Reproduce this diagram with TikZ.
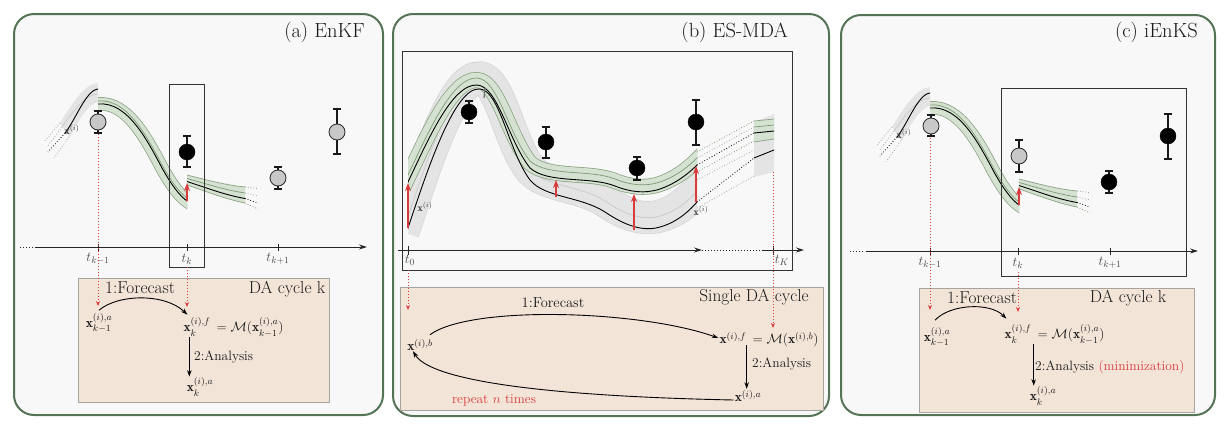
\RequirePackage{fix-cm}
\documentclass[tikz,border=0pt]{standalone}
\usepackage{amsmath}
\usepackage{fontspec}
\usetikzlibrary{arrows.meta}

\definecolor{panelborder}{HTML}{557455}
\definecolor{panelfill}{HTML}{F8F8F8}
\definecolor{beige}{HTML}{F3E4D8}
\definecolor{beigeborder}{HTML}{A9A39F}
\definecolor{bandgreen}{HTML}{D5E1D1}
\definecolor{bandedgec}{HTML}{8AA283}
\definecolor{greenlnc}{HTML}{7C9974}
\definecolor{bandgray}{HTML}{E4E4E4}
\definecolor{bandgrayedge}{HTML}{D6D6D6}
\definecolor{graylnc}{HTML}{C9C9C9}
\definecolor{myred}{HTML}{D73B3B}
\definecolor{obsgray}{HTML}{C8C8C8}

\tikzset{
  panel/.style={draw=panelborder, line width=2pt, fill=panelfill, rounded corners=20pt},
  dabox/.style={draw=beigeborder, line width=0.8pt, fill=beige},
  frame/.style={draw=black!80, line width=0.9pt},
  axisline/.style={-{Stealth[length=8pt,width=5pt]}, line width=0.9pt, draw=black!85},
  axisdots/.style={dotted, line width=1pt, draw=black!85},
  axtick/.style={line width=0.9pt, draw=black!85},
  fc/.style={-{Stealth[length=6.5pt,width=4.5pt]}, line width=0.9pt},
  reddot/.style={draw=myred, dotted, line width=1pt, -{Stealth[length=5pt,width=4pt]}},
  redarrow/.style={draw=myred, line width=1.8pt, -{Stealth[length=8pt,width=6pt]}},
  lbl/.style={font=\fontsize{13.5}{16}\selectfont, inner sep=1pt, text=black!90},
  midlbl/.style={font=\fontsize{14.5}{17}\selectfont, inner sep=1pt, text=black!90},
  biglbl/.style={font=\fontsize{17.3}{20}\selectfont, inner sep=1pt, text=black!90},
  paneltitle/.style={font=\fontsize{20.5}{24}\selectfont, anchor=east, inner sep=0pt, text=black!90},
  tlbl/.style={font=\fontsize{13.5}{16}\selectfont, text=black!70, inner sep=0pt},
  curvelbl/.style={font=\fontsize{10}{12}\selectfont, text=black!80, inner sep=0pt},
  obsG/.style={circle, draw=black!85, fill=obsgray, minimum size=16pt, inner sep=0pt, line width=0.8pt},
  obsB/.style={circle, draw=black, fill=black, minimum size=16pt, inner sep=0pt},
  errbar/.style={line width=1.2pt, draw=black!90},
  thinblack/.style={draw=black, line width=0.9pt},
  grayln/.style={draw=graylnc, line width=0.7pt},
  greenln/.style={draw=greenlnc, line width=0.7pt},
  bandedgeln/.style={draw=bandedgec, line width=0.7pt},
  dotblack/.style={draw=black, dotted, line width=0.8pt},
  dotgray/.style={draw=black!35, dotted, line width=0.8pt},
  dotgreen/.style={draw=greenlnc, dotted, line width=0.8pt},
  gone/.style={insert path={(86,104) -- (98,104) .. controls (128,101) and (148,142) .. (162,168) .. controls (172,186) and (180,196) .. (187,201) -- (197,208)}},
  qpath/.style={insert path={(403,192.5) -- (408,182) .. controls (428,140) and (452,84) .. (477,85) .. controls (498,86) and (508,140) .. (530,168) .. controls (548,184) and (590,176) .. (615,186) .. controls (630,192) and (645,194) .. (660,189) .. controls (675,184) and (688,174) .. (697,165) -- (706,156)}},
  ppath/.style={insert path={(403,243) -- (408,228) .. controls (428,168) and (455,86) .. (480,89) .. controls (500,91) and (508,150) .. (530,180) .. controls (545,198) and (580,196) .. (605,212) .. controls (620,222) and (640,233) .. (660,227) .. controls (678,222) and (690,210) .. (697,202) -- (704,194)}},
}

\newcommand\obsmark[6]{%
  \draw[errbar] (#3,#5) -- (#3,#6) (#3-4,#5) -- (#3+4,#5) (#3-4,#6) -- (#3+4,#6);
  \node[#2] (#1) at (#3,#4) {};
}

\newcommand\enkfcurves[1]{%
  \fill[bandgray] (60,123) .. controls (72,104) and (84,84) .. (98,83) -- (98,102) .. controls (88,104) and (78,121) .. (70,137) -- cycle;
  \draw[grayln] (62,127) .. controls (74,110) and (86,94) .. (98,94);
  \draw[thinblack] (65,133) .. controls (75,121) and (86,90) .. (98,89);
  \draw[dotgray] (60,123) -- (45,141);
  \draw[dotgray] (62,127) -- (47,147);
  \draw[dotblack] (65,133) -- (48,152);
  \draw[dotgray] (69,137) -- (54,158);
  \begin{scope}
    \clip (98,60) rectangle (187,240);
    \draw[draw=bandedgec, line width=13.5pt, gone];
    \draw[draw=bandgreen, line width=12pt, gone];
    \draw[greenln, shift={(0,-3)}, gone];
    \draw[thinblack, gone];
  \end{scope}
  \fill[bandgreen] (187,175) .. controls (207,180) and (225,185) .. (245,187) -- (245,203) .. controls (225,199) and (205,191) .. (187,185) -- cycle;
  \draw[bandedgeln] (187,175) .. controls (207,180) and (225,185) .. (245,187);
  \draw[bandedgeln] (187,185) .. controls (205,191) and (225,199) .. (245,203);
  \draw[greenln] (187,178.5) .. controls (207,184) and (225,190) .. (245,193);
  \draw[thinblack] (187,181.5) .. controls (207,188) and (225,195) .. (245,198.5);
  \draw[dotgreen] (245,187) -- (258,188.5);
  \draw[dotgray] (245,193) -- (258,196);
  \draw[dotblack] (245,198.5) -- (258,203);
  \draw[dotgreen] (245,203) -- (258,209);
  \draw[redarrow] (187,201) -- (187,183);
  \node[curvelbl] (#1-xi) at (72,130) {$\mathbf{x}^{(i)}$};
}

\begin{document}
\begin{tikzpicture}[x=1pt,y=-1pt]
\useasboundingbox (0,0) rectangle (1228,431);

% ================= panel (a) =================
\draw[panel] (14,14) rectangle (383,415);
\node[paneltitle] (a-title) at (365,32) {(a) EnKF};
\draw[dabox] (78,278) rectangle (329,402);
\enkfcurves{a}
\draw[frame] (169,84) rectangle (204,267);
\draw[axisdots] (20,247) -- (33,247);
\draw[axisline] (35,247) -- (367,247);
\foreach \x in {98,187,278} \draw[axtick] (\x,243.5) -- (\x,250.5);
\node[tlbl] (a-t1) at (98,259) {$t_{k-1}$};
\node[tlbl] (a-t2) at (187,259) {$t_{k}$};
\node[tlbl] (a-t3) at (278,259) {$t_{k+1}$};
\obsmark{a-o1}{obsG}{98}{122}{111}{133}
\obsmark{a-o2}{obsB}{187}{152}{136}{167}
\obsmark{a-o3}{obsG}{278}{178}{167}{189}
\obsmark{a-o4}{obsG}{337}{132}{109}{154}
\node[biglbl] (a-fc) at (140,288) {1:Forecast};
\node[biglbl] (a-da) at (287,289) {DA cycle k};
\node[lbl] (a-xkm1) at (99,323) {$\mathbf{x}_{k-1}^{(i),a}$};
\node[lbl] (a-xkf) at (197,327) {$\mathbf{x}_{k}^{(i),f}$};
\node[lbl, anchor=base west] (a-eq) at (a-xkf.base east) {${}=\mathcal{M}(\mathbf{x}_{k-1}^{(i),a})$};
\node[lbl] (a-xka) at (200,387) {$\mathbf{x}_{k}^{(i),a}$};
\node[lbl, anchor=west] (a-an) at (193,357) {2:Analysis};
\draw[fc] ([yshift=2pt]a-xkm1.north) .. controls (118,294) and (165,293) .. ([xshift=5pt,yshift=2pt]a-xkf.north west);
\draw[fc] ([xshift=7pt]a-xkf.south west) -- ([xshift=7pt]a-xkf.south west |- a-xka.north);
\coordinate (a-d1s) at (98,134);
\coordinate (a-d1e) at (98,306);
\coordinate (a-d2s) at (187,267);
\coordinate (a-d2e) at (187,307);
\draw[reddot] (a-d1s) -- (a-d1e);
\draw[reddot] (a-d2s) -- (a-d2e);

% ================= panel (b) =================
\draw[panel] (393,14) rectangle (829,416);
\node[paneltitle] (b-title) at (788,32) {(b) ES-MDA};
\draw[dabox] (400,287) rectangle (823,410);
\begin{scope}
  \clip (408,40) rectangle (697,252);
  \draw[draw=bandgrayedge, line width=33pt, shift={(0,-11)}, ppath];
  \draw[draw=bandgray, line width=31.5pt, shift={(0,-11)}, ppath];
  \draw[grayln, shift={(0,-11)}, ppath];
  \draw[draw=bandedgec, line width=16pt, shift={(0,-5)}, qpath];
  \draw[draw=bandgreen, line width=14.5pt, shift={(0,-5)}, qpath];
  \draw[greenln, shift={(0,-7)}, qpath];
  \draw[thinblack, qpath];
  \draw[thinblack, ppath];
\end{scope}
\draw[draw=black!55, line width=1.3pt] (485,88) -- (484,98);
% fan of dotted continuations
\draw[dotgreen] (697,152) -- (754,121);
\draw[dotgray] (697,158) -- (754,127);
\draw[dotblack] (697,165) -- (754,133);
\draw[dotgreen] (697,172) -- (754,141);
\draw[dotgray] (697,180) -- (754,150);
\draw[dotblack] (697,202) -- (754,158);
\draw[dotgray] (697,208) -- (754,176);
% right band
\fill[bandgray] (754,122) -- (774,114) -- (774,172) -- (754,177) -- cycle;
\fill[bandgreen] (754,121) -- (774,119) -- (774,139) -- (754,142) -- cycle;
\draw[bandedgeln] (754,121) -- (774,119);
\draw[bandedgeln] (754,142) -- (774,139);
\draw[greenln] (754,127) -- (774,125);
\draw[thinblack] (754,133) -- (774,131);
\draw[thinblack] (754,158) -- (774,150);
% red arrows
\draw[redarrow] (408,228) -- (408,183);
\draw[redarrow] (556,197) -- (556,180);
\draw[redarrow] (634,230) -- (634,194);
\draw[redarrow] (696,202) -- (696,166);
\node[curvelbl] (b-xi1) at (425,207) {$\mathbf{x}^{(i)}$};
\node[curvelbl] (b-xi2) at (701,211) {$\mathbf{x}^{(i)}$};
\draw[frame] (402,51) rectangle (792,270);
\draw[axisline] (398,250) -- (702,250);
\draw[axisdots] (702,250) -- (762,250);
\draw[axisline] (762,250) -- (804,250);
\draw[axtick] (408,246) -- (408,255);
\draw[axtick] (773,246) -- (773,255);
\node[tlbl] (b-t0) at (410,260) {$t_{0}$};
\node[tlbl] (b-tK) at (782,260) {$t_{K}$};
\obsmark{b-o1}{obsB}{469}{112}{101}{123}
\obsmark{b-o2}{obsB}{546}{142}{127}{158}
\obsmark{b-o3}{obsB}{637}{168}{157}{180}
\obsmark{b-o4}{obsB}{696}{122}{100}{145}
\node[midlbl] (b-fc) at (553,303) {1:Forecast};
\node[biglbl] (b-da) at (754,297) {Single DA cycle};
\node[lbl] (b-xb) at (420,345) {$\mathbf{x}^{(i),b}$};
\node[lbl] (b-xf) at (733,338) {$\mathbf{x}^{(i),f}$};
\node[lbl, anchor=base west] (b-eq) at (b-xf.base east) {${}=\mathcal{M}(\mathbf{x}^{(i),b})$};
\node[lbl] (b-xa) at (748,396) {$\mathbf{x}^{(i),a}$};
\node[lbl, anchor=west] (b-an) at (751,364) {2:Analysis};
\node[lbl, text=myred] (b-rep) at (494,400) {repeat $n$ times};
\draw[fc] ([xshift=-4pt,yshift=3pt]b-xb.north east) .. controls (470,305) and (640,310) .. (b-xf.west);
\draw[fc] ([xshift=-1pt]b-xf.south east) -- ([xshift=-1pt]b-xf.south east |- b-xa.north);
\draw[fc] ([yshift=-4pt]b-xa.west) .. controls (540,396) and (430,380) .. ([xshift=-7pt,yshift=1pt]b-xb.south);
\coordinate (b-d1s) at (408,270);
\coordinate (b-d1e) at (408,310);
\coordinate (b-d2s) at (773,172);
\coordinate (b-d2e) at (773,328);
\draw[reddot] (b-d1s) -- (b-d1e);
\draw[reddot] (b-d2s) -- (b-d2e);

% ================= panel (c) =================
\draw[panel] (841,15) rectangle (1215,415);
\node[paneltitle] (c-title) at (1198,32) {(c) iEnKS};
\draw[dabox] (919,288) rectangle (1194,412);
\begin{scope}[shift={(832,4)}]
  \enkfcurves{c}
\end{scope}
\draw[frame] (1001,88) rectangle (1186,276);
\draw[axisdots] (850,251) -- (865,251);
\draw[axisline] (866,251) -- (1198,251);
\foreach \x in {930,1018,1110} \draw[axtick] (\x,247.5) -- (\x,254.5);
\node[tlbl] (c-t1) at (930,263) {$t_{k-1}$};
\node[tlbl] (c-t2) at (1018,263) {$t_{k}$};
\node[tlbl] (c-t3) at (1110,263) {$t_{k+1}$};
\obsmark{c-o1}{obsG}{931}{126}{115}{136}
\obsmark{c-o2}{obsG}{1019}{156}{140}{172}
\obsmark{c-o3}{obsB}{1109}{182}{171}{193}
\obsmark{c-o4}{obsB}{1168}{136}{114}{159}
\node[biglbl] (c-fc) at (982,298) {1:Forecast};
\node[biglbl] (c-da) at (1128,298) {DA cycle k};
\node[lbl] (c-xkm1) at (937,337) {$\mathbf{x}_{k-1}^{(i),a}$};
\node[lbl] (c-xkf) at (1018,334) {$\mathbf{x}_{k}^{(i),f}$};
\node[lbl, anchor=base west] (c-eq) at (c-xkf.base east) {${}=\mathcal{M}(\mathbf{x}_{k-1}^{(i),a})$};
\node[lbl] (c-xka) at (1043,396) {$\mathbf{x}_{k}^{(i),a}$};
\node[lbl, anchor=west] (c-an) at (1034,367) {2:Analysis \textcolor{myred}{(minimization)}};
\draw[fc] ([xshift=-2pt,yshift=6pt]c-xkm1.north) .. controls (950,304) and (990,302) .. ([xshift=3pt,yshift=5pt]c-xkf.north west);
\draw[fc] ([xshift=1pt]c-xkf.south east) -- ([xshift=1pt]c-xkf.south east |- c-xka.north);
\coordinate (c-d1s) at (930,138);
\coordinate (c-d1e) at (930,310);
\coordinate (c-d2s) at (1018,272);
\coordinate (c-d2e) at (1018,312);
\draw[reddot] (c-d1s) -- (c-d1e);
\draw[reddot] (c-d2s) -- (c-d2e);

\end{tikzpicture}
\end{document}
